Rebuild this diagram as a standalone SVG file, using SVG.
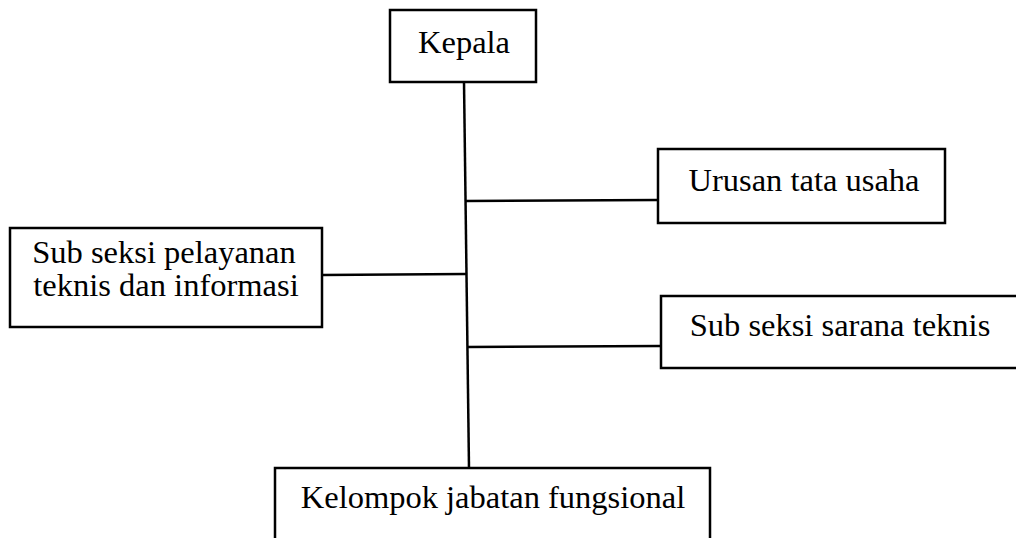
<svg xmlns="http://www.w3.org/2000/svg" width="1016" height="538" viewBox="0 0 1016 538">
<style>
.box{fill:#fff;stroke:#000;stroke-width:2.5}
.t{font-family:"Liberation Serif","Times New Roman",serif;font-size:32.5px;fill:#000;text-anchor:middle}
.c{stroke:#000;stroke-width:2.5;fill:none}
</style>
<rect width="1016" height="538" fill="#fff"/>
<g id="connectors">
<line class="c" x1="464" y1="82" x2="469" y2="468"/>
<line class="c" x1="465" y1="201" x2="658" y2="200"/>
<line class="c" x1="322" y1="275" x2="466" y2="274"/>
<line class="c" x1="467" y1="347" x2="661" y2="346"/>
</g>
<g id="kepala">
<rect class="box" x="390" y="10" width="146" height="72"/>
<text class="t" x="464" y="53">Kepala</text>
</g>
<g id="urusan">
<rect class="box" x="658" y="149" width="287" height="74"/>
<text class="t" x="804" y="191">Urusan tata usaha</text>
</g>
<g id="pelayanan">
<rect class="box" x="10" y="228" width="312" height="99"/>
<text class="t" x="164" y="263">Sub seksi pelayanan</text>
<text class="t" x="166" y="296">teknis dan informasi</text>
</g>
<g id="sarana">
<rect class="box" x="661" y="296" width="370" height="72"/>
<text class="t" x="840" y="336">Sub seksi sarana teknis</text>
</g>
<g id="kelompok">
<rect class="box" x="275" y="468" width="435" height="80"/>
<text class="t" x="493" y="508">Kelompok jabatan fungsional</text>
</g>
</svg>
